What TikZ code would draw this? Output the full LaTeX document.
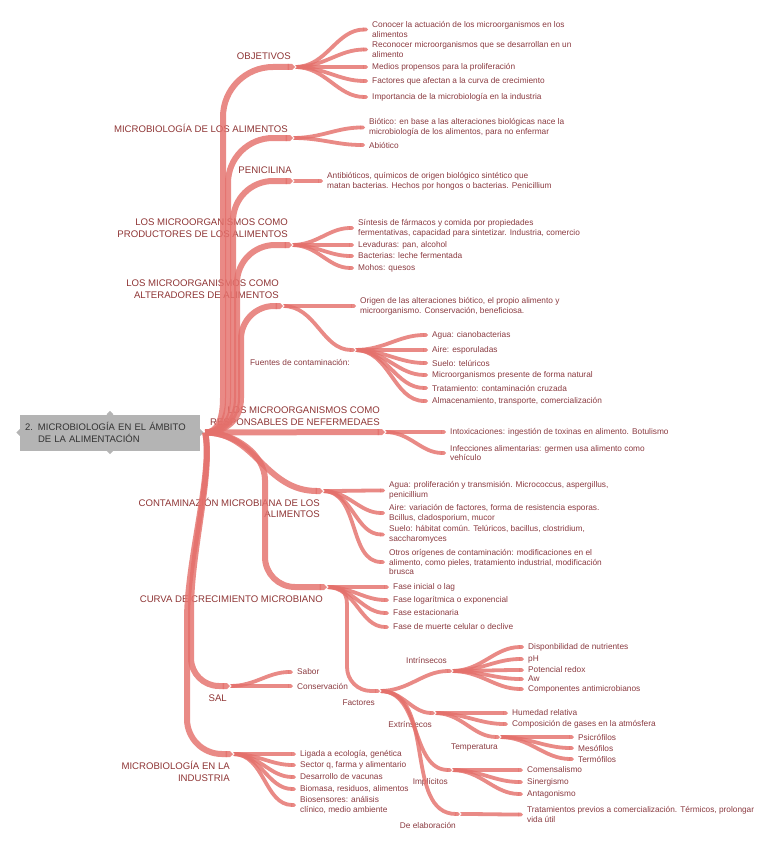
\documentclass[tikz,border=0pt]{standalone}
\usepackage{fontspec}
\setmainfont{Liberation Sans}
\usetikzlibrary{shapes.geometric, arrows.meta, positioning}
\definecolor{branch}{HTML}{E4706B}
\definecolor{tagred}{HTML}{8E3434}
\definecolor{leafred}{HTML}{8A3A40}
\definecolor{rootgrey}{HTML}{B4B4B4}

\begin{document}
\begin{tikzpicture}[x=1pt, y=-1pt,
rootbox/.style={fill=rootgrey, text=black!80, text width=170pt, inner xsep=5pt, minimum height=36pt, align=left, font=\fontsize{9.5}{11.5}\selectfont},
knob/.style={diamond, fill=rootgrey, inner sep=0pt, minimum size=7pt},
tag/.style={anchor=east, inner sep=1pt, align=right, text=tagred, font=\fontsize{9.6}{11.5}\selectfont},
subtag/.style={anchor=east, inner sep=1pt, align=right, text=leafred, font=\fontsize{8.3}{9.8}\selectfont},
leaf/.style={anchor=west, inner xsep=4pt, inner ysep=1pt, align=left, text=leafred, font=\fontsize{8.3}{9.8}\selectfont},
limb/.style={draw=branch, opacity=0.82, line width=6pt, -{Triangle Cap}},
twig/.style={draw=branch, opacity=0.82, line width=3.8pt, -{Triangle Cap}},
notch/.pic={\draw[white, line width=0.8pt] (-1,-2.5) -- (1,0) -- (-1,2.5);}
]
\useasboundingbox (0,0) rectangle (775,848);
% Central topic
\node[rootbox] (root) at (110,432.5) {\makebox[13pt][l]{2.}MICROBIOLOGÍA EN EL ÁMBITO\\\hspace*{13pt}DE LA ALIMENTACIÓN};
\foreach \a in {north, south, west, east} \node[knob] at (root.\a) {};
\coordinate (stem) at ([xshift=5pt]root.east);
% Hubs of the main branches
\coordinate (objetivos) at (295,67);
\coordinate (alimentos) at (293,138);
\coordinate (penicilina) at (293,181);
\coordinate (productores) at (292,245);
\coordinate (alteradores) at (283,306);
\coordinate (fuentes) at (355,350);
\coordinate (responsables) at (385,432);
\coordinate (contaminacion) at (323,491);
\coordinate (curva) at (327,587);
\coordinate (factores) at (380,691);
\coordinate (intrinsecos) at (452,671);
\coordinate (extrinsecos) at (435,713);
\coordinate (temperatura) at (500,737);
\coordinate (implicitos) at (452,770);
\coordinate (elaboracion) at (460,814);
\coordinate (sal) at (230,686);
\coordinate (industria) at (233,754);
% Branch titles
\node[tag] (objetivos-anno) at (292,56) {OBJETIVOS};
\node[tag] (alimentos-anno) at (289,128) {MICROBIOLOGÍA DE LOS ALIMENTOS};
\node[tag] (penicilina-anno) at (293,170) {PENICILINA};
\node[tag] (productores-anno) at (289,228) {LOS MICROORGANISMOS COMO\\PRODUCTORES DE LOS ALIMENTOS};
\node[tag] (alteradores-anno) at (280,289) {LOS MICROORGANISMOS COMO\\ALTERADORES DE ALIMENTOS};
\node[tag] (responsables-anno) at (381,416) {LOS MICROORGANISMOS COMO\\RESPONSABLES DE NEFERMEDAES};
\node[tag] (contaminacion-anno) at (321,508) {CONTAMINAZIÓN MICROBIANA DE LOS\\ALIMENTOS};
\node[tag] (curva-anno) at (324,599) {CURVA DE CRECIMIENTO MICROBIANO};
\node[tag] (sal-anno) at (228,698) {SAL};
\node[tag] (industria-anno) at (231,771.5) {MICROBIOLOGÍA EN LA\\INDUSTRIA};
\node[subtag] (fuentes-anno) at (351,362) {Fuentes de contaminación:};
\node[subtag] (factores-anno) at (376,703) {Factores};
\node[subtag] (intrinsecos-anno) at (448,660) {Intrínsecos};
\node[subtag] (extrinsecos-anno) at (433,724) {Extrínsecos};
\node[subtag] (temperatura-anno) at (499,747) {Temperatura};
\node[subtag] (implicitos-anno) at (449,782) {Implícitos};
\node[subtag] (elaboracion-anno) at (457,825) {De elaboración};
% Leaves
\node[leaf] (objetivos-1) at (368,29.5) {Conocer la actuación de los microorganismos en los\\alimentos};
\node[leaf] (objetivos-2) at (368,49.5) {Reconocer microorganismos que se desarrollan en un\\alimento};
\node[leaf] (objetivos-3) at (368,67) {Medios propensos para la proliferación};
\node[leaf] (objetivos-4) at (368,81) {Factores que afectan a la curva de crecimiento};
\node[leaf] (objetivos-5) at (368,97) {Importancia de la microbiología en la industria};
\node[leaf] (alimentos-1) at (365,127.5) {Biótico: en base a las alteraciones biológicas nace la\\microbiología de los alimentos, para no enfermar};
\node[leaf] (alimentos-2) at (365,145) {Abiótico};
\node[leaf] (penicilina-1) at (323,181) {Antibióticos, químicos de origen biológico sintético que\\matan bacterias. Hechos por hongos o bacterias. Penicillium};
\node[leaf] (productores-1) at (354,228) {Síntesis de fármacos y comida por propiedades\\fermentativas, capacidad para sintetizar. Industria, comercio};
\node[leaf] (productores-2) at (354,245) {Levaduras: pan, alcohol};
\node[leaf] (productores-3) at (354,256) {Bacterias: leche fermentada};
\node[leaf] (productores-4) at (354,268) {Mohos: quesos};
\node[leaf] (alteradores-1) at (356,306) {Origen de las alteraciones biótico, el propio alimento y\\microorganismo. Conservación, beneficiosa.};
\node[leaf] (fuentes-1) at (428,335) {Agua: cianobacterias};
\node[leaf] (fuentes-2) at (428,350) {Aire: esporuladas};
\node[leaf] (fuentes-3) at (428,363) {Suelo: telúricos};
\node[leaf] (fuentes-4) at (428,375) {Microorganismos presente de forma natural};
\node[leaf] (fuentes-5) at (428,388) {Tratamiento: contaminación cruzada};
\node[leaf] (fuentes-6) at (428,401) {Almacenamiento, transporte, comercialización};
\node[leaf] (responsables-1) at (446,432) {Intoxicaciones: ingestión de toxinas en alimento. Botulismo};
\node[leaf] (responsables-2) at (446,453) {Infecciones alimentarias: germen usa alimento como\\vehículo};
\node[leaf] (contaminacion-1) at (385,490.5) {Agua: proliferación y transmisión. Micrococcus, aspergillus,\\penicillium};
\node[leaf] (contaminacion-2) at (385,513) {Aire: variación de factores, forma de resistencia esporas.\\Bcillus, cladosporium, mucor};
\node[leaf] (contaminacion-3) at (385,534.5) {Suelo: hábitat común. Telúricos, bacillus, clostridium,\\saccharomyces};
\node[leaf] (contaminacion-4) at (385,562) {Otros orígenes de contaminación: modificaciones en el\\alimento, como pieles, tratamiento industrial, modificación\\brusca};
\node[leaf] (curva-1) at (389,587) {Fase inicial o lag};
\node[leaf] (curva-2) at (389,600) {Fase logarítmica o exponencial};
\node[leaf] (curva-3) at (389,613) {Fase estacionaria};
\node[leaf] (curva-4) at (389,627) {Fase de muerte celular o declive};
\node[leaf] (intrinsecos-1) at (524,647) {Disponbilidad de nutrientes};
\node[leaf] (intrinsecos-2) at (524,659) {pH};
\node[leaf] (intrinsecos-3) at (524,670) {Potencial redox};
\node[leaf] (intrinsecos-4) at (524,679) {Aw};
\node[leaf] (intrinsecos-5) at (524,689) {Componentes antimicrobianos};
\node[leaf] (extrinsecos-1) at (508,713) {Humedad relativa};
\node[leaf] (extrinsecos-2) at (508,724) {Composición de gases en la atmósfera};
\node[leaf] (temperatura-1) at (574,737) {Psicrófilos};
\node[leaf] (temperatura-2) at (574,748) {Mesófilos};
\node[leaf] (temperatura-3) at (574,759) {Termófilos};
\node[leaf] (implicitos-1) at (523,770) {Comensalismo};
\node[leaf] (implicitos-2) at (523,782) {Sinergismo};
\node[leaf] (implicitos-3) at (523,794) {Antagonismo};
\node[leaf] (elaboracion-1) at (523,814.5) {Tratamientos previos a comercialización. Térmicos, prolongar\\vida útil};
\node[leaf] (sal-1) at (293,672) {Sabor};
\node[leaf] (sal-2) at (293,686) {Conservación};
\node[leaf] (industria-1) at (296,754) {Ligada a ecología, genética};
\node[leaf] (industria-2) at (296,765) {Sector q, farma y alimentario};
\node[leaf] (industria-3) at (296,777) {Desarrollo de vacunas};
\node[leaf] (industria-4) at (296,789) {Biomasa, residuos, alimentos};
\node[leaf] (industria-5) at (296,805) {Biosensores: análisis\\clínico, medio ambiente};
% Main branches from the central topic
\draw[limb] (stem) .. controls +(12,0) and +(0,22) .. (223,398) [rounded corners=50pt] |- (objetivos);
\draw[limb] (stem) .. controls +(14,0) and +(0,22) .. (228,398) [rounded corners=45pt] |- (alimentos);
\draw[limb] (stem) .. controls +(16,0) and +(0,22) .. (233,398) [rounded corners=40pt] |- (penicilina);
\draw[limb] (stem) .. controls +(18,0) and +(0,22) .. (237,398) [rounded corners=38pt] |- (productores);
\draw[limb] (stem) .. controls +(20,0) and +(0,22) .. (241,398) [rounded corners=33pt] |- (alteradores);
\draw[limb] (stem) -- (responsables);
\draw[limb] (stem) .. controls +(50,0) and +(-58,0) .. (contaminacion);
\draw[limb] (stem) .. controls +(30,0) and +(0,-25) .. (265,480) [rounded corners=30pt] |- (curva);
\draw[limb] (stem) .. controls +(8,40) and +(0,-60) .. (191,610) [rounded corners=28pt] |- (sal);
\draw[limb] (stem) .. controls +(8,40) and +(0,-60) .. (187,620) [rounded corners=35pt] |- (industria);
% Sub branches
\draw[twig] (alteradores) to[out=0,in=180] (fuentes);
\draw[twig] (curva) .. controls +(14,0) and +(0,-14) .. (347,605) [rounded corners=24pt] |- (factores);
\foreach \h in {intrinsecos, extrinsecos, implicitos, elaboracion}
  \draw[twig] (factores) to[out=0,in=180] (\h);
\draw[twig] (extrinsecos) to[out=0,in=180] (temperatura);
% Leaf connectors
\foreach \h/\n in {objetivos/5, alimentos/2, penicilina/1, productores/4, alteradores/1, fuentes/6, responsables/2, contaminacion/4, curva/4, intrinsecos/5, extrinsecos/2, temperatura/3, implicitos/3, elaboracion/1, sal/2, industria/5}
  \foreach \i in {1,...,\n}
    \draw[twig] (\h) to[out=0,in=180] (\h-\i.west);
% Joints
\foreach \h in {objetivos, alimentos, penicilina, productores, alteradores, fuentes, responsables, contaminacion, curva, factores, intrinsecos, extrinsecos, temperatura, implicitos, elaboracion, sal, industria}
  \pic at (\h) {notch};
\end{tikzpicture}
\end{document}
